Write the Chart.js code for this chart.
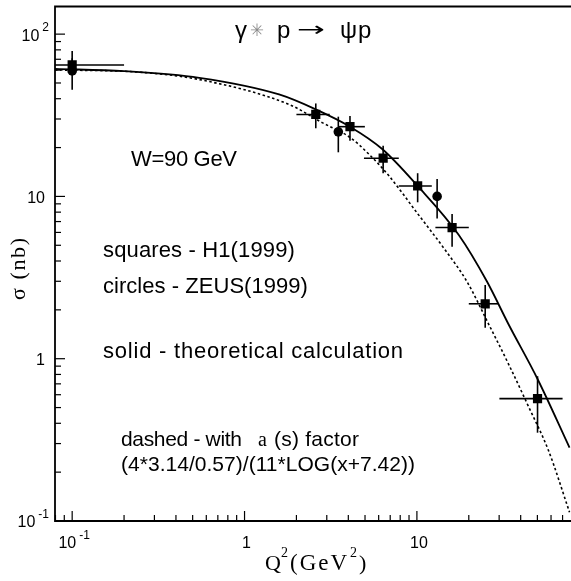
<!DOCTYPE html>
<html>
<head>
<meta charset="utf-8">
<script src="https://cdn.jsdelivr.net/npm/chart.js@4.4.1/dist/chart.umd.min.js"></script>
<style>
html, body { margin: 0; padding: 0; background: #fff; overflow: hidden; }
#wrap { width: 580px; height: 581px; }
</style>
</head>
<body>
<div id="wrap"><canvas id="myChart" width="580" height="581"></canvas></div>
<script>
// H1 (1999) squares
const h1Q2 = [0.1, 2.59, 4.09, 6.37, 10.1, 16.0, 24.9, 50.1]
const h1Sig = [64.6, 32.0, 26.9, 17.2, 11.6, 6.43, 2.18, 0.568]
const h1SigLo = [58.5, 26.3, 22.0, 13.9, 9.2, 4.9, 1.55, 0.35]
const h1SigHi = [71.0, 37.4, 31.3, 20.5, 13.9, 7.8, 2.85, 0.78]
const h1Q2Lo = [0.05, 2.0, 3.53, 4.93, 7.85, 12.8, 20.0, 30.1]
const h1Q2Hi = [0.2, 3.12, 4.99, 7.85, 12.2, 20.0, 29.8, 70.0]

// ZEUS (1999) circles
const zeusQ2 = [0.1, 3.50, 13.1]
const zeusSig = [59.3, 25.0, 10.0]
const zeusSigLo = [45.4, 18.7, 7.3]
const zeusSigHi = [78.7, 31.0, 12.8]

// solid - theoretical calculation
const solidQ2 = [0.0795, 0.2, 0.546, 1.586, 2.59, 4.09, 6.29, 10.1, 17.5, 25.5, 34.0, 50.1, 76.8]
const solidSig = [61.1, 59.1, 53.8, 42.5, 34.4, 26.9, 19.6, 11.6, 5.79, 2.99, 1.63, 0.75, 0.2835]

// dashed - with alpha(s) factor
const dashQ2 = [0.0795, 0.245, 0.546, 1.81, 2.82, 4.09, 5.27, 6.88, 10.1, 14.6, 19.5, 26.1, 34.0, 44.5, 58.0, 76.8]
const dashSig = [60.2, 58.3, 52.5, 36.9, 28.5, 23.1, 18.2, 13.4, 7.83, 4.67, 2.99, 1.63, 0.927, 0.505, 0.2717, 0.1134]

const xTickVals = [0.1, 1, 10]
const xTickLabels = ['10^-1', '1', '10']
const yTickVals = [0.1, 1, 10, 100]
const yTickLabels = ['10^-1', '1', '10', '10^2']

const xMin = 0.0795, xMax = 81
const yMin = 0.1, yMax = 148

const toPts = (xs, ys) => xs.map((x, i) => ({ x: x, y: ys[i] }))

const sans = '"Liberation Sans", Arial, Helvetica, sans-serif'
const serif = '"Liberation Serif", "Times New Roman", serif'

const minorList = (lo, hi) => {
    let out = []
    for (let d = -2; d <= 2; d++) {
        for (let m = 1; m <= 9; m++) {
            let v = m * Math.pow(10, d)
            if (v >= lo * 0.999 && v <= hi) out.push({ v: v, major: m == 1 })
        }
    }
    return out
}

// write text starting at x so that it ends near x + w (spreads the letters)
const fitText = (ctx, text, x, y, w) => {
    ctx.letterSpacing = '0px'
    let m = ctx.measureText(text).width
    let n = text.length
    if ('letterSpacing' in ctx && n > 1) {
        ctx.letterSpacing = ((w - m) / (n - 1)).toFixed(2) + 'px'
        ctx.fillText(text, x, y)
        ctx.letterSpacing = '0px'
    } else {
        ctx.save()
        ctx.translate(x, y)
        ctx.scale(w / m, 1)
        ctx.fillText(text, 0, 0)
        ctx.restore()
    }
}

const drawSupLabel = (ctx, label, x, y, align) => {
    let parts = label.split('^')
    ctx.font = '16px ' + sans
    let wBase = ctx.measureText(parts[0]).width
    let wSup = 0
    if (parts[1]) {
        ctx.font = '12px ' + sans
        wSup = ctx.measureText(parts[1]).width + 3
    }
    let total = wBase + wSup
    let x0 = align == 'right' ? x - total : x - total / 2
    ctx.textAlign = 'left'
    ctx.textBaseline = 'middle'
    ctx.font = '16px ' + sans
    ctx.fillText(parts[0], x0, y)
    if (parts[1]) {
        ctx.font = '12px ' + sans
        ctx.fillText(parts[1], x0 + wBase + 3, y - 8)
    }
}

const framePlugin = {
    id: 'frame',
    beforeDatasetsDraw(chart) {
        const ctx = chart.ctx
        const xs = chart.scales.x, ys = chart.scales.y
        ctx.save()
        ctx.strokeStyle = '#000'
        ctx.lineWidth = 1.6
        const bar = (x1, y1, x2, y2) => {
            ctx.beginPath()
            ctx.moveTo(xs.getPixelForValue(x1), ys.getPixelForValue(y1))
            ctx.lineTo(xs.getPixelForValue(x2), ys.getPixelForValue(y2))
            ctx.stroke()
        }
        h1Q2.forEach((q, i) => {
            bar(q, h1SigLo[i], q, h1SigHi[i])
            bar(Math.max(h1Q2Lo[i], xMin), h1Sig[i], h1Q2Hi[i], h1Sig[i])
        })
        zeusQ2.forEach((q, i) => {
            bar(q, zeusSigLo[i], q, zeusSigHi[i])
        })
        ctx.restore()
    },
    afterDraw(chart) {
        const ctx = chart.ctx
        const a = chart.chartArea
        const xs = chart.scales.x, ys = chart.scales.y
        ctx.save()
        ctx.strokeStyle = '#000'
        ctx.fillStyle = '#000'
        ctx.lineWidth = 1.8
        ctx.beginPath()
        ctx.moveTo(a.right, a.top)
        ctx.lineTo(a.left, a.top)
        ctx.lineTo(a.left, a.bottom)
        ctx.lineTo(a.right, a.bottom)
        ctx.lineTo(a.right, a.top)
        ctx.stroke()

        // inward ticks
        ctx.lineWidth = 1.2
        minorList(yMin, yMax).forEach(t => {
            let py = ys.getPixelForValue(t.v)
            ctx.beginPath()
            ctx.moveTo(a.left, py)
            ctx.lineTo(a.left + (t.major ? 10 : 6), py)
            ctx.stroke()
        })
        minorList(xMin, xMax).forEach(t => {
            let px = xs.getPixelForValue(t.v)
            ctx.beginPath()
            ctx.moveTo(px, a.bottom)
            ctx.lineTo(px, a.bottom - (t.major ? 10 : 6))
            ctx.stroke()
        })

        yTickVals.forEach((v, i) => {
            let lab = yTickLabels[i]
            let py = ys.getPixelForValue(v)
            drawSupLabel(ctx, lab, lab.includes('^') ? 49 : 45, py + 2, 'right')
        })
        xTickVals.forEach((v, i) => {
            let px = xs.getPixelForValue(v)
            drawSupLabel(ctx, xTickLabels[i], px + 2, a.bottom + 23, 'center')
        })

        // axis titles
        ctx.textBaseline = 'alphabetic'
        ctx.textAlign = 'left'
        ctx.font = '22px ' + serif
        ctx.fillText('Q', 265, 570)
        ctx.font = '14px ' + serif
        ctx.fillText('2', 281, 557)
        ctx.font = '23px ' + serif
        fitText(ctx, '(GeV', 290, 570, 57)
        ctx.font = '14px ' + serif
        ctx.fillText('2', 350, 557)
        ctx.font = '22px ' + serif
        ctx.fillText(')', 359, 570)

        ctx.save()
        ctx.translate(25, 300)
        ctx.rotate(-Math.PI / 2)
        ctx.font = '22px ' + serif
        fitText(ctx, '\u03c3 (nb)', 0, 0, 62)
        ctx.restore()

        // title
        ctx.textAlign = 'left'
        ctx.font = '24px ' + sans
        ctx.fillText('\u03b3', 235, 38)
        ctx.fillStyle = '#8a8a8a'
        ctx.font = '17px "DejaVu Sans", sans-serif'
        fitText(ctx, '\u2733', 250, 36, 14)
        ctx.fillStyle = '#000'
        ctx.font = '24px ' + sans
        ctx.fillText('p', 277, 38)
        ctx.font = '20px "DejaVu Sans", sans-serif'
        fitText(ctx, '\u2192', 297, 36, 28)
        ctx.font = '24px ' + sans
        ctx.fillText('\u03c8', 340, 38)
        ctx.fillText('p', 358, 38)

        // annotations
        ctx.font = '22px ' + sans
        fitText(ctx, 'W=90 GeV', 131, 166, 106)
        fitText(ctx, 'squares - H1(1999)', 103, 257, 192)
        fitText(ctx, 'circles - ZEUS(1999)', 103, 293, 205)
        fitText(ctx, 'solid - theoretical calculation', 103, 358, 300)
        ctx.font = '21px ' + sans
        fitText(ctx, 'dashed - with', 121, 446, 121)
        ctx.font = '20px ' + serif
        ctx.fillText('a', 258, 446)
        ctx.font = '21px ' + sans
        fitText(ctx, '(s) factor', 274, 446, 85)
        fitText(ctx, '(4*3.14/0.57)/(11*LOG(x+7.42))', 121, 471, 294)
        ctx.restore()
    }
}

const ctx = document.getElementById('myChart').getContext('2d')
const myChart = new Chart(ctx, {
    type: 'scatter',
    data: {
        datasets: [
            {
                label: 'solid',
                data: toPts(solidQ2, solidSig),
                showLine: true,
                borderColor: '#000',
                borderWidth: 1.8,
                pointRadius: 0,
                cubicInterpolationMode: 'monotone'
            },
            {
                label: 'dashed',
                data: toPts(dashQ2, dashSig),
                showLine: true,
                borderColor: '#000',
                borderWidth: 1.6,
                borderDash: [2.5, 2.5],
                pointRadius: 0,
                cubicInterpolationMode: 'monotone'
            },
            {
                label: 'H1',
                data: toPts(h1Q2, h1Sig),
                pointStyle: 'rect',
                pointRadius: 6.5,
                backgroundColor: '#000',
                borderColor: '#000',
                borderWidth: 0
            },
            {
                label: 'ZEUS',
                data: toPts(zeusQ2, zeusSig),
                pointStyle: 'circle',
                pointRadius: 4.8,
                backgroundColor: '#000',
                borderColor: '#000',
                borderWidth: 0
            }
        ]
    },
    options: {
        responsive: false,
        animation: false,
        devicePixelRatio: 1,
        layout: { padding: { left: 55, top: 3, right: 5, bottom: 60 } },
        plugins: { legend: { display: false }, tooltip: { enabled: false } },
        scales: {
            x: { type: 'logarithmic', min: xMin, max: xMax, display: false },
            y: { type: 'logarithmic', min: yMin, max: yMax, display: false }
        }
    },
    plugins: [framePlugin]
});
</script>
</body>
</html>
